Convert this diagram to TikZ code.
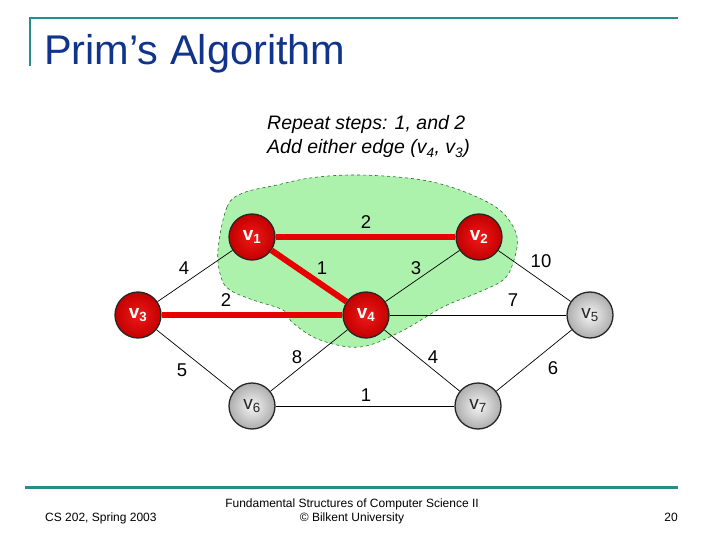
\documentclass[tikz,border=0pt]{standalone}
\usepackage{fontspec}
\setmainfont{Liberation Sans}
\definecolor{slideteal}{RGB}{38,140,140}
\definecolor{titleblue}{RGB}{16,52,140}
\definecolor{treered}{RGB}{232,0,0}
\definecolor{blobgreen}{RGB}{172,242,172}
\definecolor{blobedge}{RGB}{40,110,40}
\begin{document}
\begin{tikzpicture}[x=1pt,y=-1pt,
          intree/.style={circle, draw=black!85, line width=1.3pt, minimum size=46pt, inner sep=0pt,
            shading=radial, inner color={rgb,255:red,240;green,25;blue,25}, outer color={rgb,255:red,195;green,0;blue,0},
            text=white, font=\bfseries\fontsize{19}{19}\selectfont},
          outtree/.style={circle, draw=black!85, line width=1.3pt, minimum size=46pt, inner sep=0pt,
            shading=radial, inner color=black!4, outer color=black!32,
            text=black!85, font=\fontsize{19}{19}\selectfont},
          treeedge/.style={treered, line width=6pt},
          plainedge/.style={black, line width=0.7pt},
          wt/.style={font=\fontsize{18.5}{18.5}\selectfont, inner sep=0pt}]
        \useasboundingbox[fill=white] (0,0) rectangle (720,540);
        % slide frame
        \draw[slideteal, line width=2.5pt] (678,18) -- (30,18) -- (30,66);
        \draw[slideteal, line width=3pt] (25,487) -- (678,487);
        \node[anchor=base west, inner sep=0pt, text=titleblue, font=\fontsize{41.5}{41.5}\selectfont] (title) at (44,65) {Prim’s Algorithm};
        \node[anchor=base west, inner sep=0pt, font=\itshape\fontsize{19.5}{19.5}\selectfont] (note1) at (267,130) {Repeat steps: 1, and 2};
        \node[anchor=base west, inner sep=0pt, font=\itshape\fontsize{19.5}{19.5}\selectfont] (note2) at (267,154) {Add either edge (v\textsubscript{4}, v\textsubscript{3})};
        % current tree region
        \draw[blobedge, dashed, line width=0.6pt, fill=blobgreen] plot[smooth cycle, tension=0.6] coordinates {
          (218,250) (227,207) (243,193) (277,185) (310,178) (350,175) (397,177) (437,183)
          (477,197) (503,213) (517,237) (513,263) (503,280) (477,293) (443,307) (400,332)
          (360,347) (320,340) (293,323) (283,310) (253,300) (230,290) (221,277)};
        % vertices
        \foreach \i/\x/\y/\st in {1/252/237/intree, 2/479/237/intree, 3/138/315/intree, 4/366/315/intree,
                                  5/590/315/outtree, 6/252/406/outtree, 7/478/406/outtree}
          \node[\st] (v\i) at (\x,\y) {v\textsubscript{\i}};
        % edges
        \foreach \a/\b in {1/3,2/4,2/5,4/5,3/6,4/6,4/7,6/7,5/7}
          \draw[plainedge] (v\a) -- (v\b);
        \foreach \a/\b in {1/2,1/4,3/4}
          \draw[treeedge] (v\a) -- (v\b);
        % weights
        \foreach \t/\x/\y [count=\k] in {2/366/222, 4/184/268, 1/322/268, 3/416/268, 10/541/261, 2/226/300,
                                          7/513/300, 8/297/357, 4/433/357, 5/182/370, 6/553/368, 1/366/395}
          \node[wt] (w\k) at (\x,\y) {\t};
        % footer
        \node[anchor=base west, inner sep=0pt, font=\fontsize{12}{12}\selectfont] (course) at (45,521) {CS 202, Spring 2003};
        \node[anchor=base, inner sep=0pt, font=\fontsize{12}{12}\selectfont] (foot1) at (352,507) {Fundamental Structures of Computer Science II};
        \node[anchor=base, inner sep=0pt, font=\fontsize{12}{12}\selectfont] (foot2) at (352,521) {© Bilkent University};
        \node[anchor=base east, inner sep=0pt, font=\fontsize{12}{12}\selectfont] (page) at (678,521) {20};
      \end{tikzpicture}
\end{document}
